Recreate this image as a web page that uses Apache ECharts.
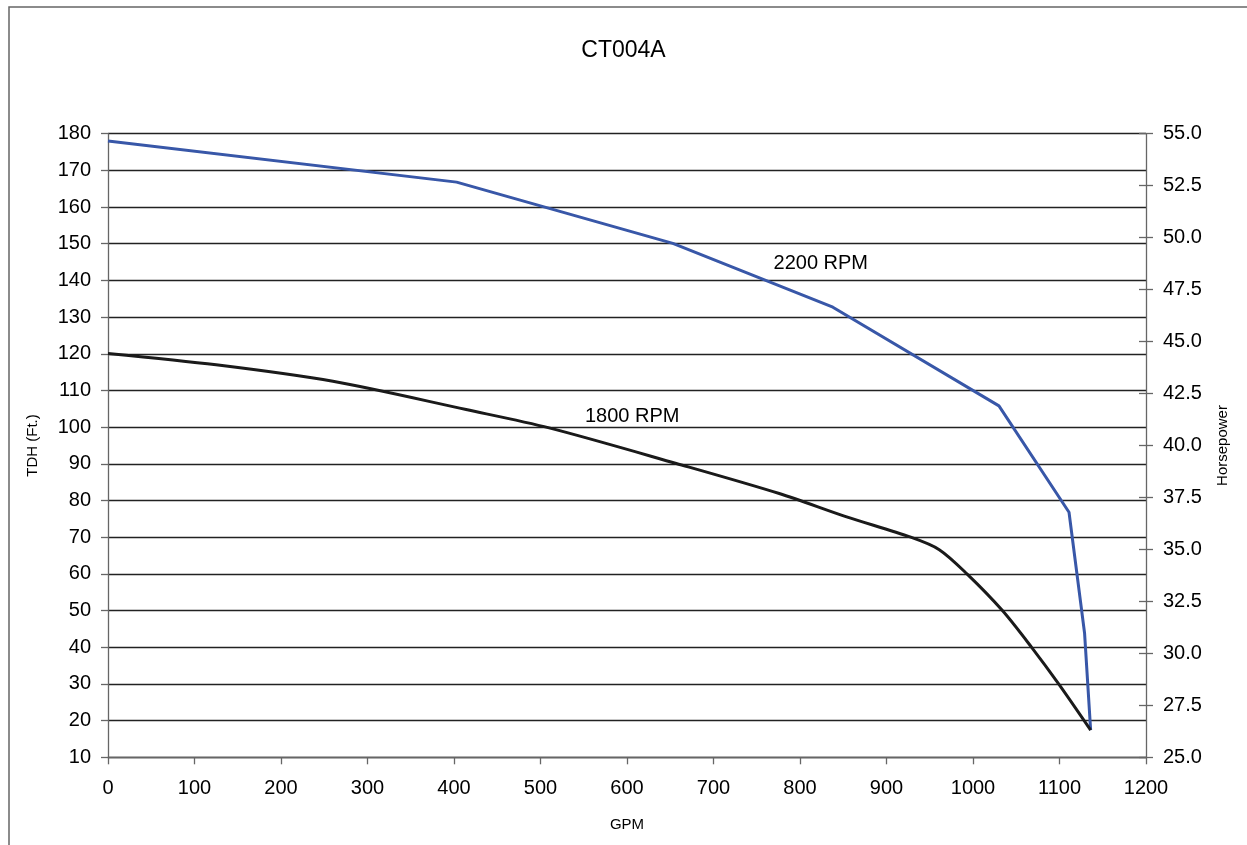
<!DOCTYPE html>
<html>
<head>
<meta charset="utf-8">
<script src="https://cdn.jsdelivr.net/npm/echarts@6/dist/echarts.min.js"></script>
<style>
html,body{margin:0;padding:0;background:#fff;}
#chart{width:1247px;height:845px;}
</style>
</head>
<body>
<div id="chart"></div>
<script>
const titleText = 'CT004A';
const xTicks = {min: 0, max: 1200, interval: 100};
const leftTicks = {min: 10, max: 180, interval: 10};
const rightTicks = {min: 25, max: 55, interval: 2.5};
const rpm2200Gpm = [0, 403, 653, 838, 1030, 1111, 1129, 1136];
const rpm2200Tdh = [178, 166.8, 150.1, 132.7, 105.8, 76.8, 43.8, 17.4];
const rpm1800Gpm = [0, 125, 260, 414, 510, 657, 776, 853, 928, 961, 993, 1034, 1068, 1099, 1136];
const rpm1800Tdh = [120.1, 117, 112.5, 104.8, 99.8, 90.1, 81.9, 75.6, 70, 66.6, 60, 50, 39.9, 30, 17.4];
const seriesNames = ['2200 RPM', '1800 RPM'];

const zip = (a, b) => a.map((v, i) => [v, b[i]]);
const FONT = 'Liberation Sans, Arial, sans-serif';
const chart = echarts.init(document.getElementById('chart'));

const axisLineStyle = {color: '#666', width: 1.3};

chart.setOption({
  animation: false,
  backgroundColor: '#fff',
  textStyle: {fontFamily: FONT},
  title: {
    text: titleText, left: 'center', top: 34,
    textStyle: {fontFamily: FONT, fontSize: 23, fontWeight: 'normal', color: '#000'}
  },
  graphic: [{
    type: 'rect', shape: {x: 9, y: 7, width: 1300, height: 900},
    style: {fill: 'none', stroke: '#666', lineWidth: 1.5}, silent: true
  }],
  grid: {left: 108, right: 101, top: 133.7, bottom: 87.7, containLabel: false},
  xAxis: {
    type: 'value', min: xTicks.min, max: xTicks.max, interval: xTicks.interval,
    name: 'GPM', nameLocation: 'middle', nameGap: 60,
    nameTextStyle: {fontFamily: FONT, fontSize: 15, color: '#000'},
    axisLine: {show: true, lineStyle: axisLineStyle},
    axisTick: {show: true, length: 7, lineStyle: axisLineStyle},
    axisLabel: {fontFamily: FONT, fontSize: 20, color: '#000', margin: 21,
      formatter: v => String(v)},
    splitLine: {show: false}
  },
  yAxis: [{
    type: 'value', position: 'left', min: leftTicks.min, max: leftTicks.max, interval: leftTicks.interval,
    name: 'TDH (Ft.)', nameLocation: 'middle', nameGap: 68, nameRotate: 90,
    nameTextStyle: {fontFamily: FONT, fontSize: 15, color: '#000'},
    axisLine: {show: true, lineStyle: axisLineStyle},
    axisTick: {show: true, length: 7, lineStyle: axisLineStyle},
    axisLabel: {fontFamily: FONT, fontSize: 20, color: '#000', margin: 17},
    splitLine: {show: true, lineStyle: {color: '#222', width: 1.3}}
  }, {
    type: 'value', position: 'right', min: rightTicks.min, max: rightTicks.max, interval: rightTicks.interval,
    name: 'Horsepower', nameLocation: 'middle', nameGap: 69, nameRotate: 90,
    nameTextStyle: {fontFamily: FONT, fontSize: 15, color: '#000'},
    axisLine: {show: true, lineStyle: axisLineStyle},
    axisTick: {show: true, length: 7, lineStyle: axisLineStyle},
    axisLabel: {fontFamily: FONT, fontSize: 20, color: '#000', margin: 17,
      formatter: v => v.toFixed(1)},
    splitLine: {show: false}
  }, {
    type: 'value', position: 'right', min: rightTicks.min, max: rightTicks.max, interval: rightTicks.interval,
    axisLine: {show: false},
    axisTick: {show: true, inside: true, length: 7, lineStyle: axisLineStyle},
    axisLabel: {show: false},
    splitLine: {show: false}
  }],
  series: [{
    name: seriesNames[0], type: 'line', yAxisIndex: 0,
    data: zip(rpm2200Gpm, rpm2200Tdh),
    showSymbol: false, symbol: 'none',
    lineStyle: {color: '#3857A8', width: 3},
    markPoint: {
      symbol: 'circle', symbolSize: 0,
      label: {show: true, formatter: seriesNames[0], fontFamily: FONT, fontSize: 20, color: '#000', position: 'inside'},
      data: [{coord: [824, 144.7]}]
    }
  }, {
    name: seriesNames[1], type: 'line', yAxisIndex: 0,
    data: zip(rpm1800Gpm, rpm1800Tdh),
    showSymbol: false, symbol: 'none', smooth: 0.3,
    lineStyle: {color: '#1a1a1a', width: 3},
    markPoint: {
      symbol: 'circle', symbolSize: 0,
      label: {show: true, formatter: seriesNames[1], fontFamily: FONT, fontSize: 20, color: '#000', position: 'inside'},
      data: [{coord: [606, 102.8]}]
    }
  }]
});
</script>
</body>
</html>
